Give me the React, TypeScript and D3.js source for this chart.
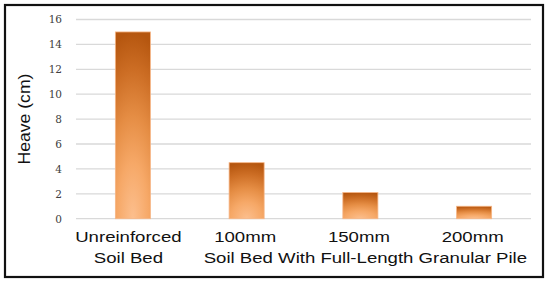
import React from "react";
import * as d3 from "d3";

const categories = ["Unreinforced", "100mm", "150mm", "200mm"];
const values = [15, 4.5, 2.1, 1.0];
const secondLine = ["Soil Bed"];
const groupLabel = "Soil Bed With Full-Length Granular Pile";
const yTicks = [0, 2, 4, 6, 8, 10, 12, 14, 16];
const yLabel = "Heave (cm)";

const W = 550;
const H = 287;

export default function App() {
  const x = d3
    .scaleBand<string>()
    .domain(categories)
    .range([76, 531])
    .paddingInner(0.692)
    .paddingOuter(0.346);
  const y = d3.scaleLinear().domain([0, 16]).range([218.7, 19.5]);
  const bw = x.bandwidth();
  const step = x.step();

  const groupCenter =
    ((x(categories[1]) as number) - (step - bw) / 2 + (x(categories[3]) as number) + bw + (step - bw) / 2) / 2 + 5;

  const sans = "'Liberation Sans', Arial, sans-serif";
  const serif = "'DejaVu Serif', 'Liberation Serif', serif";
  const sx = 1.2;

  return (
    <svg
      width={W}
      height={H}
      viewBox={`0 0 ${W} ${H}`}
      style={{ position: "absolute", left: 0, top: 0, display: "block", background: "#fff" }}
    >
      <defs>
        <radialGradient
          id="barGrad"
          cx="0.5"
          cy="1"
          r="1"
          fx="0.5"
          fy="1"
          gradientTransform="translate(0.5,1) scale(1.5,1) translate(-0.5,-1)"
        >
          <stop offset="0" stopColor="#fcbf8e" />
          <stop offset="0.3" stopColor="#f6a867" />
          <stop offset="0.55" stopColor="#e58d44" />
          <stop offset="0.8" stopColor="#cc6d24" />
          <stop offset="1" stopColor="#b5560f" />
        </radialGradient>
      </defs>
      <rect x={0} y={0} width={W} height={H} fill="#fff" />
      <rect x={5} y={5} width={538} height={272} fill="#fff" stroke="#111" strokeWidth={2.2} />

      {yTicks.map((t) => (
        <g key={t}>
          <line x1={76} x2={531} y1={y(t)} y2={y(t)} stroke="#d9d9d9" strokeWidth={1.3} />
          <text
            x={62}
            y={y(t) + 3.8}
            textAnchor="end"
            fontFamily={serif}
            fontSize={10.5}
            fill="#404040"
          >
            {t}
          </text>
        </g>
      ))}

      {categories.map((c, i) => (
        <rect
          key={c}
          x={x(c)}
          y={y(values[i])}
          width={bw}
          height={y(0) - y(values[i])}
          fill="url(#barGrad)"
          stroke="#f6b585"
          strokeWidth={0.8}
        />
      ))}

      <text
        transform={`translate(30,119) rotate(-90) scale(1.1,1)`}
        textAnchor="middle"
        fontFamily={sans}
        fontSize={16}
        fill="#111"
      >
        {yLabel}
      </text>

      {categories.map((c, i) => (
        <text
          key={c}
          transform={`translate(${(x(c) as number) + bw / 2 - (i === 0 ? 4.5 : 1.5)},241.7) scale(${sx},1)`}
          textAnchor="middle"
          fontFamily={sans}
          fontSize={15.5}
          fill="#111"
        >
          {c}
        </text>
      ))}
      {secondLine.map((s) => (
        <text
          key={s}
          transform={`translate(${(x(categories[0]) as number) + bw / 2 - 4.5},262.5) scale(${sx},1)`}
          textAnchor="middle"
          fontFamily={sans}
          fontSize={15.5}
          fill="#111"
        >
          {s}
        </text>
      ))}
      <text
        transform={`translate(${groupCenter},262.5) scale(${sx},1)`}
        textAnchor="middle"
        fontFamily={sans}
        fontSize={15.5}
        fill="#111"
      >
        {groupLabel}
      </text>
    </svg>
  );
}
